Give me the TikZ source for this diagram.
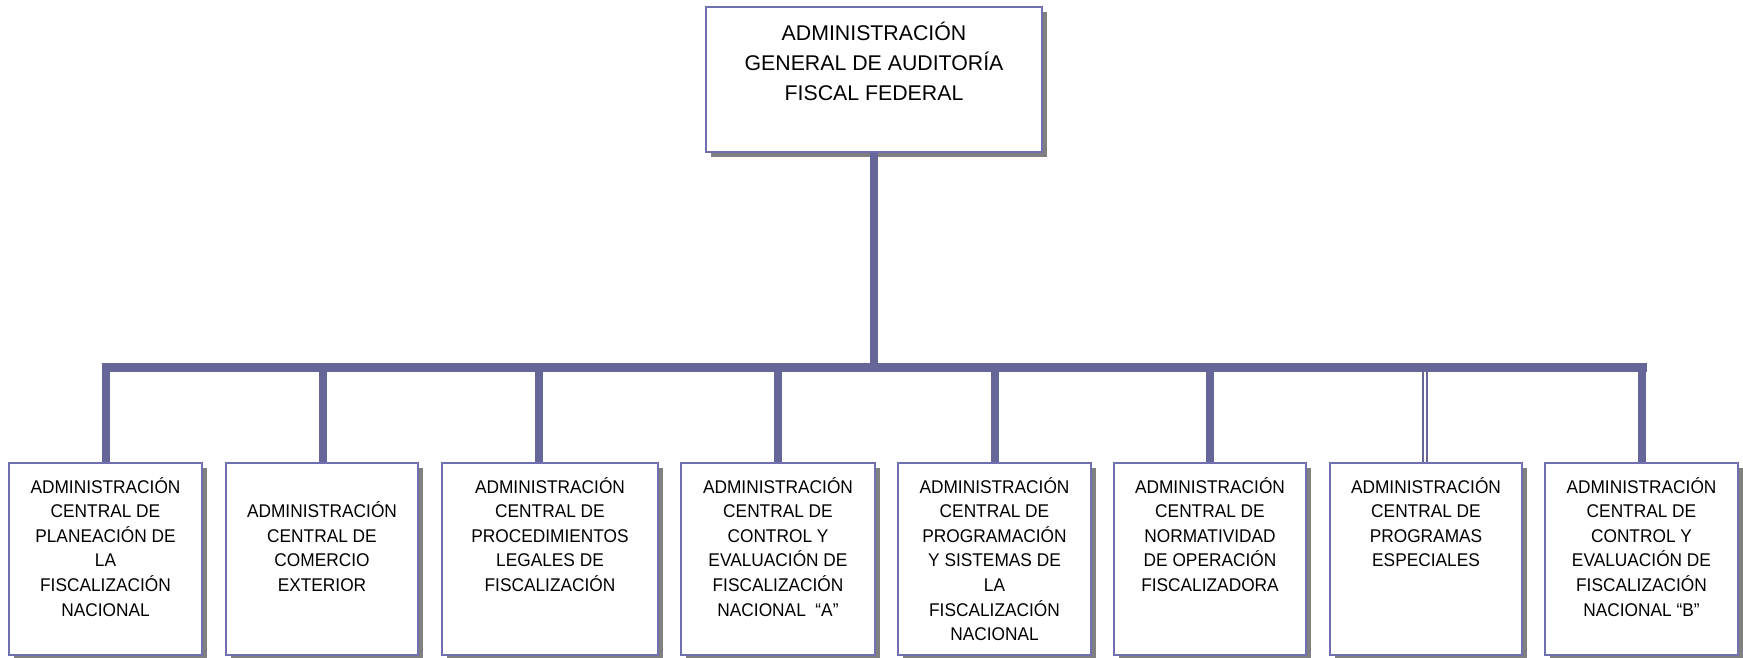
\documentclass[tikz,border=0pt]{standalone}
\usepackage{fontspec}
\setmainfont{Liberation Sans}
\newfontfamily\narrowfont[FakeStretch=0.94]{Liberation Sans}
\usetikzlibrary{shadows}
\definecolor{linec}{RGB}{102,102,153}
\definecolor{bordc}{RGB}{112,112,176}
\definecolor{shadc}{RGB}{128,128,128}
\newcommand\smallbox[3]{\parbox[t][192pt][t]{#1pt}{\centering\narrowfont\fontsize{18.4}{24.6}\selectfont\rule{0pt}{#2pt}#3}}
\tikzset{
  orgbox/.style={draw=bordc, line width=1.5pt, fill=white, inner sep=0pt,
    drop shadow={shadow xshift=5pt, shadow yshift=-5pt, opacity=1, fill=shadc}},
  conn/.style={draw=linec, line width=8pt},
  connbar/.style={draw=linec, line width=9pt, line cap=rect},
  conndouble/.style={draw=linec, line width=2pt, double=white, double distance=2pt}
}
\begin{document}
\begin{tikzpicture}[x=1pt,y=-1pt]
\useasboundingbox (0,0) rectangle (1743,657);
% top box
\node[orgbox] (top) at (874,79.5) {\parbox[t][145pt][t]{336pt}{\centering\fontsize{21.3}{30}\selectfont\rule{0pt}{33pt}ADMINISTRACIÓN\\GENERAL DE AUDITORÍA\\FISCAL FEDERAL}};
% bottom boxes
\node[orgbox] (b1) at (105.5,559) {\smallbox{193}{30}{ADMINISTRACIÓN\\CENTRAL DE\\PLANEACIÓN DE\\LA\\FISCALIZACIÓN\\NACIONAL}};
\node[orgbox] (b2) at (322,559) {\smallbox{192}{54.6}{ADMINISTRACIÓN\\CENTRAL DE\\COMERCIO\\EXTERIOR}};
\node[orgbox] (b3) at (550,559) {\smallbox{216}{30}{ADMINISTRACIÓN\\CENTRAL DE\\PROCEDIMIENTOS\\LEGALES DE\\FISCALIZACIÓN}};
\node[orgbox] (b4) at (778,559) {\smallbox{194}{30}{ADMINISTRACIÓN\\CENTRAL DE\\CONTROL Y\\EVALUACIÓN DE\\FISCALIZACIÓN\\NACIONAL ~“A”}};
\node[orgbox] (b5) at (994.5,559) {\smallbox{193}{30}{ADMINISTRACIÓN\\CENTRAL DE\\PROGRAMACIÓN\\Y SISTEMAS DE\\LA\\FISCALIZACIÓN\\NACIONAL}};
\node[orgbox] (b6) at (1210,559) {\smallbox{192}{30}{ADMINISTRACIÓN\\CENTRAL DE\\NORMATIVIDAD\\DE OPERACIÓN\\FISCALIZADORA}};
\node[orgbox] (b7) at (1426,559) {\smallbox{192}{30}{ADMINISTRACIÓN\\CENTRAL DE\\PROGRAMAS\\ESPECIALES}};
\node[orgbox] (b8) at (1641.5,559) {\smallbox{193}{30}{ADMINISTRACIÓN\\CENTRAL DE\\CONTROL Y\\EVALUACIÓN DE\\FISCALIZACIÓN\\NACIONAL “B”}};
% junctions on the bar
\coordinate (j1) at (106,367.5);
\coordinate (j2) at (322.5,367.5);
\coordinate (j3) at (538.5,367.5);
\coordinate (j4) at (778,367.5);
\coordinate (j5) at (994.5,367.5);
\coordinate (j6) at (1210,367.5);
\coordinate (j7) at (1425,367.5);
\coordinate (j8) at (1642,367.5);
% connectors
\draw[conn] (top.south) -- (top.south |- j1);
\draw[connbar] (j1) -- (j8);
\draw[conn] (j1) -- (j1 |- b1.north);
\draw[conn] (j2) -- (j2 |- b2.north);
\draw[conn] (j3) -- (j3 |- b3.north);
\draw[conn] (j4) -- (j4 |- b4.north);
\draw[conn] (j5) -- (j5 |- b5.north);
\draw[conn] (j6) -- (j6 |- b6.north);
\draw[conndouble] ([yshift=-4pt]j7) -- (j7 |- b7.north);
\draw[conn] (j8) -- (j8 |- b8.north);
\end{tikzpicture}
\end{document}
